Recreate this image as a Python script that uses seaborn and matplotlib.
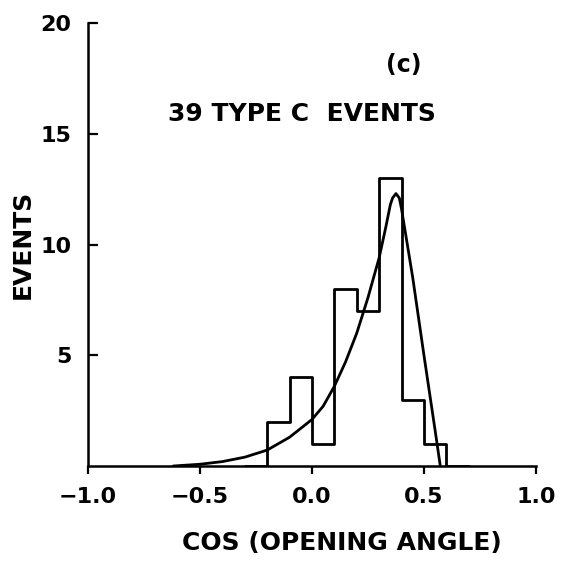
import matplotlib
matplotlib.use("Agg")
import matplotlib.pyplot as plt
import seaborn as sns
import numpy as np
import pandas as pd

# Histogram data (bin centers, counts); empty bins at both ends close the outline
bin_edges = [-0.3, -0.2, -0.1, 0.0, 0.1, 0.2, 0.3, 0.4, 0.5, 0.6, 0.7]
bin_centers = [-0.25, -0.15, -0.05, 0.05, 0.15, 0.25, 0.35, 0.45, 0.55, 0.65]
counts = [0, 2, 4, 1, 8, 7, 13, 3, 1, 0]

# Fitted curve
curve_x = [-0.62, -0.5, -0.4, -0.3, -0.2, -0.1, 0.0, 0.05, 0.1, 0.15, 0.2, 0.25,
           0.3, 0.33, 0.35, 0.36, 0.375, 0.39, 0.40, 0.45, 0.50, 0.55, 0.573]
curve_y = [0.0, 0.08, 0.2, 0.4, 0.72, 1.3, 2.1, 2.7, 3.6, 4.7, 6.0, 7.6,
           9.4, 10.8, 11.8, 12.1, 12.3, 12.1, 11.6, 8.5, 5.0, 1.6, 0.0]

xticks = [-1.0, -0.5, 0.0, 0.5, 1.0]
xtick_labels = ["\u22121.0", "\u22120.5", "0.0", "0.5", "1.0"]
yticks = [5, 10, 15, 20]

sns.set_theme(style="ticks")
plt.rcParams['font.family'] = ['DejaVu Sans']
for k in ["text.color", "axes.labelcolor", "xtick.color", "ytick.color", "axes.edgecolor"]:
    plt.rcParams[k] = "black"

fig = plt.figure(figsize=(5.62, 5.61), dpi=100)
ax = fig.add_axes([0.1566, 0.1693, 0.797, 0.7897])

df_hist = pd.DataFrame({"x": bin_centers, "w": counts})
sns.histplot(data=df_hist, x="x", weights="w", bins=bin_edges, element="step",
             fill=False, color="black", linewidth=2.0, ax=ax)

df_curve = pd.DataFrame({"x": curve_x, "y": curve_y})
sns.lineplot(data=df_curve, x="x", y="y", color="black", linewidth=2.0, ax=ax)

ax.set_xlim(-1.0, 1.0)
ax.set_ylim(0, 20)
ax.set_xticks(xticks)
ax.set_xticklabels(xtick_labels, fontsize=16, fontweight="bold")
ax.set_yticks(yticks)
ax.set_yticklabels([str(t) for t in yticks], fontsize=16, fontweight="bold")
ax.tick_params(axis="x", direction="out", length=6, width=1.6, pad=9)
ax.tick_params(axis="y", direction="in", length=7, width=1.6, pad=12)

for s in ["top", "right"]:
    ax.spines[s].set_visible(False)
for s in ["left", "bottom"]:
    ax.spines[s].set_linewidth(1.8)

ax.set_xlabel("COS (OPENING ANGLE)", fontsize=18, fontweight="bold")
ax.xaxis.set_label_coords(0.567, -0.174)
ax.xaxis.label.set_va("center")
ax.set_ylabel("EVENTS", fontsize=18, fontweight="bold", labelpad=4)

ax.text(0.41, 18.1, "(c)", fontsize=17, fontweight="bold", ha="center", va="center")
ax.text(-0.045, 15.9, "39 TYPE C  EVENTS", fontsize=18, fontweight="bold",
        ha="center", va="center")

fig.savefig("out.png", dpi=100)
